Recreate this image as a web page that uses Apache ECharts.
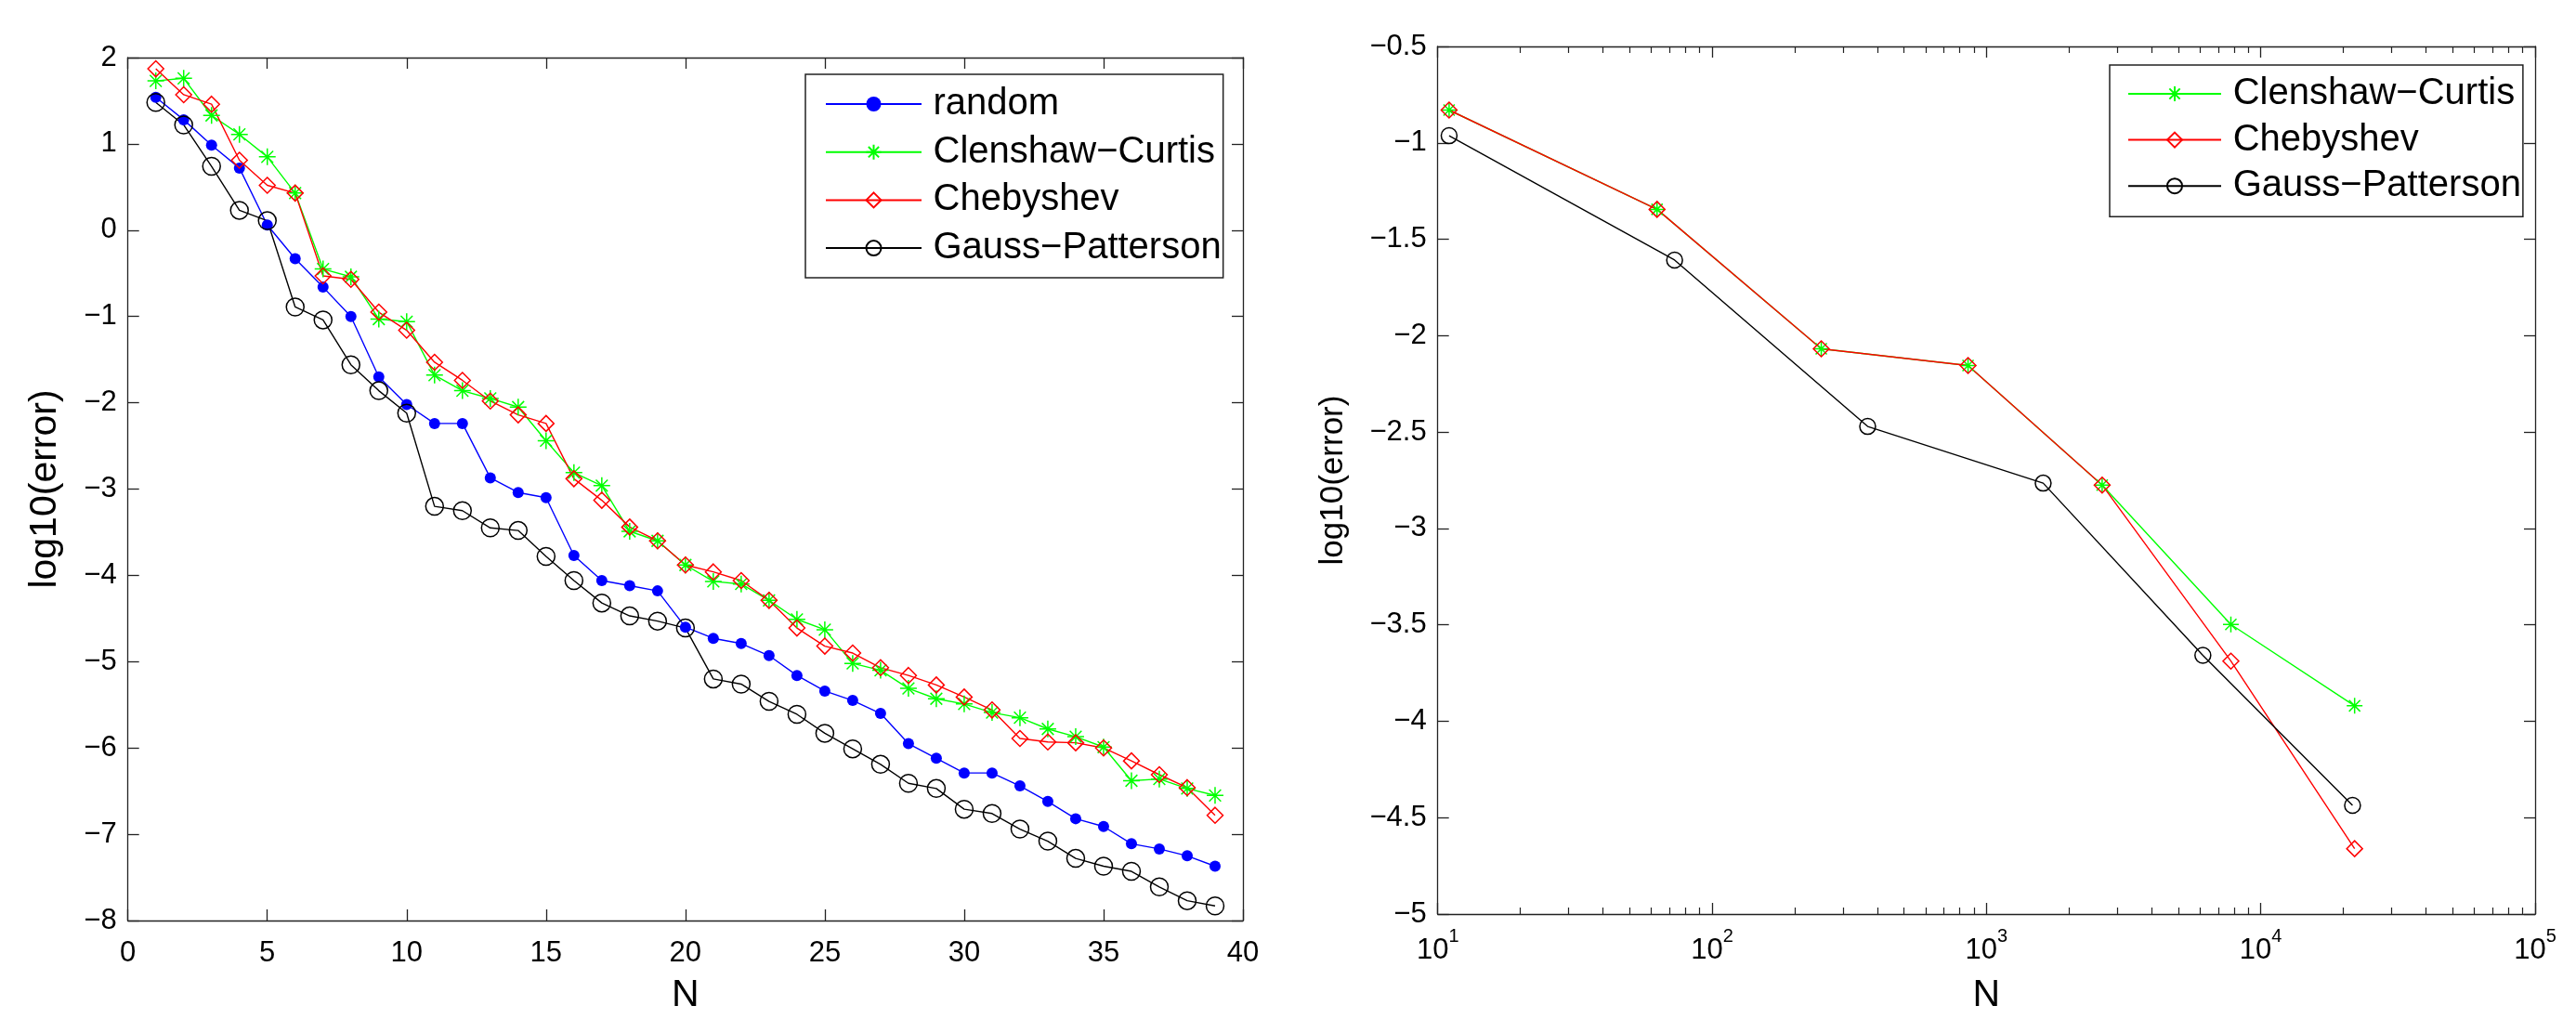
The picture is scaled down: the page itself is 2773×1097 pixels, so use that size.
<!DOCTYPE html>
<html>
<head>
<meta charset="utf-8">
<title>log10(error) vs N</title>
<script src="https://cdn.jsdelivr.net/npm/echarts@6/dist/echarts.min.js"></script>
<style>
  html, body { margin: 0; padding: 0; background: #ffffff; }
  #chart { width: 2773px; height: 1097px; }
</style>
</head>
<body>
<div id="chart"></div>
<script>
// ---- left panel: error against number of points N ----
const leftN = [1, 2, 3, 4, 5, 6, 7, 8, 9, 10, 11, 12, 13, 14, 15, 16, 17, 18, 19, 20,
               21, 22, 23, 24, 25, 26, 27, 28, 29, 30, 31, 32, 33, 34, 35, 36, 37, 38, 39];
const leftRandom = [1.54, 1.28, 0.985, 0.72, 0.06, -0.33, -0.66, -1.00, -1.70, -2.02,
                    -2.24, -2.24, -2.87, -3.04, -3.10, -3.77, -4.06, -4.12, -4.18, -4.60,
                    -4.73, -4.79, -4.93, -5.16, -5.34, -5.45, -5.60, -5.95, -6.12, -6.29,
                    -6.29, -6.44, -6.62, -6.82, -6.91, -7.11, -7.17, -7.25, -7.37];
const leftCC = [1.73, 1.76, 1.33, 1.11, 0.85, 0.43, -0.45, -0.54, -1.03, -1.06,
                -1.68, -1.86, -1.95, -2.05, -2.44, -2.81, -2.96, -3.49, -3.60, -3.88,
                -4.07, -4.10, -4.29, -4.51, -4.63, -5.02, -5.10, -5.31, -5.43, -5.49,
                -5.59, -5.65, -5.78, -5.87, -5.99, -6.38, -6.36, -6.47, -6.55];
const leftCheb = [1.87, 1.57, 1.46, 0.81, 0.52, 0.43, -0.53, -0.57, -0.95, -1.16,
                  -1.53, -1.74, -1.98, -2.14, -2.24, -2.88, -3.13, -3.44, -3.60, -3.88,
                  -3.96, -4.06, -4.29, -4.61, -4.82, -4.90, -5.07, -5.16, -5.27, -5.41,
                  -5.56, -5.89, -5.93, -5.94, -6.00, -6.15, -6.31, -6.46, -6.78];
const leftGP = [1.48, 1.22, 0.74, 0.23, 0.11, -0.89, -1.04, -1.56, -1.86, -2.12,
                -3.20, -3.25, -3.45, -3.48, -3.78, -4.06, -4.32, -4.47, -4.53, -4.61,
                -5.20, -5.26, -5.46, -5.61, -5.83, -6.01, -6.19, -6.41, -6.47, -6.71,
                -6.76, -6.94, -7.08, -7.28, -7.37, -7.43, -7.61, -7.77, -7.83];

// ---- right panel: error against N on a log scale ----
const rightN = [11, 63, 250, 857, 2641, 7780, 21980];          // Clenshaw-Curtis and Chebyshev
const rightCC = [-0.83, -1.345, -2.068, -2.155, -2.775, -3.498, -3.92];
const rightCheb = [-0.83, -1.345, -2.068, -2.155, -2.775, -3.688, -4.661];
const rightGPN = [11, 73, 369, 1610, 6150, 21600];              // Gauss-Patterson
const rightGP = [-0.963, -1.608, -2.471, -2.765, -3.658, -4.436];

const legendLeft = ['random', 'Clenshaw\u2212Curtis', 'Chebyshev', 'Gauss\u2212Patterson'];
const legendRight = ['Clenshaw\u2212Curtis', 'Chebyshev', 'Gauss\u2212Patterson'];

const FONT = '"Liberation Sans", Arial, Helvetica, sans-serif';
const AXIS_COLOR = '#222222';
const BLUE = '#0000ff', GREEN = '#00ff00', RED = '#ff0000', BLACK = '#000000';
const ASTERISK = 'path://M0,-10L0,10M-10,0L10,0M-7.07,-7.07L7.07,7.07M-7.07,7.07L7.07,-7.07';

const pairs = (xs, ys) => xs.map((x, i) => [x, ys[i]]);
const minusFmt = v => String(v).replace('-', '\u2212');

// minor tick positions (exponents of 2..9 x 10^k) for the decades 10^1 .. 10^5
const minorExponents = [];
for (let k = 1; k < 5; k++) {
  for (let m = 2; m <= 9; m++) minorExponents.push(k + Math.log10(m));
}

function frameAxis(extra) {
  return Object.assign({
    axisLine: { show: true, onZero: false, lineStyle: { color: AXIS_COLOR, width: 1.3 } },
    axisTick: { show: true, inside: true, length: 12, lineStyle: { color: AXIS_COLOR, width: 1.3 } },
    axisLabel: { show: false },
    splitLine: { show: false },
    minorTick: { show: false }
  }, extra);
}

// tick-only axis in exponent space carrying the log-decade minor ticks
function minorAxis(position) {
  return {
    gridIndex: 1, type: 'value', position: position, min: 1, max: 5,
    axisLine: { show: false },
    axisTick: { show: true, inside: true, length: 7, customValues: minorExponents,
                lineStyle: { color: AXIS_COLOR, width: 1.2 } },
    axisLabel: { show: false },
    splitLine: { show: false }
  };
}

const tickLabel = { color: '#000', fontFamily: FONT, fontSize: 31 };

function lineSeries(name, data, color, kind, xi, yi, size) {
  const s = {
    name: name, type: 'line', data: data,
    xAxisIndex: xi, yAxisIndex: yi,
    symbolSize: size,
    lineStyle: { color: color, width: 1.4 },
    emphasis: { disabled: true },
    z: 3
  };
  if (kind === 'dot') {
    s.symbol = 'circle';
    s.itemStyle = { color: color, borderColor: color, borderWidth: 0 };
  } else if (kind === 'star') {
    s.symbol = ASTERISK;
    s.itemStyle = { color: color, borderColor: color, borderWidth: 1.5 };
  } else if (kind === 'diamond') {
    s.symbol = 'diamond';
    s.itemStyle = { color: 'rgba(255,255,255,0)', borderColor: color, borderWidth: 1.5 };
  } else {
    s.symbol = 'circle';
    s.itemStyle = { color: 'rgba(255,255,255,0)', borderColor: color, borderWidth: 1.5 };
  }
  return s;
}

const option = {
  animation: false,
  backgroundColor: '#ffffff',
  textStyle: { fontFamily: FONT },
  grid: [
    { left: 137.7, top: 62, width: 1200.3, height: 943 },
    { left: 1547.7, top: 50, width: 1181.3, height: 948 }
  ],
  xAxis: [
    frameAxis({
      gridIndex: 0, type: 'value', position: 'bottom', min: 0, max: 40, interval: 5,
      axisLabel: Object.assign({ show: true, margin: 20 }, tickLabel),
      name: 'N', nameLocation: 'middle', nameGap: 60,
      nameTextStyle: { color: '#000', fontFamily: FONT, fontSize: 41 }
    }),
    frameAxis({ gridIndex: 0, type: 'value', position: 'top', min: 0, max: 40, interval: 5 }),
    frameAxis({
      gridIndex: 1, type: 'log', logBase: 10, position: 'bottom', min: 10, max: 100000,
      axisLabel: {
        show: true, margin: 14, color: '#000', fontFamily: FONT,
        formatter: v => '{b|10}{s|' + Math.round(Math.log10(v)) + '}',
        rich: {
          b: { fontFamily: FONT, fontSize: 31, lineHeight: 50, color: '#000' },
          s: { fontFamily: FONT, fontSize: 20, lineHeight: 20, verticalAlign: 'top', color: '#000' }
        }
      },
      name: 'N', nameLocation: 'middle', nameGap: 67,
      nameTextStyle: { color: '#000', fontFamily: FONT, fontSize: 41 }
    }),
    frameAxis({ gridIndex: 1, type: 'log', logBase: 10, position: 'top', min: 10, max: 100000 }),
    minorAxis('bottom'),
    minorAxis('top')
  ],
  yAxis: [
    frameAxis({
      gridIndex: 0, type: 'value', position: 'left', min: -8, max: 2, interval: 1,
      axisLabel: Object.assign({ show: true, margin: 12, formatter: minusFmt }, tickLabel),
      name: 'log10(error)', nameLocation: 'middle', nameGap: 69,
      nameTextStyle: { color: '#000', fontFamily: FONT, fontSize: 41 }
    }),
    frameAxis({ gridIndex: 0, type: 'value', position: 'right', min: -8, max: 2, interval: 1 }),
    frameAxis({
      gridIndex: 1, type: 'value', position: 'left', min: -5, max: -0.5, interval: 0.5,
      axisLabel: Object.assign({ show: true, margin: 12, formatter: minusFmt }, tickLabel),
      name: 'log10(error)', nameLocation: 'middle', nameGap: 95,
      nameTextStyle: { color: '#000', fontFamily: FONT, fontSize: 35 }
    }),
    frameAxis({ gridIndex: 1, type: 'value', position: 'right', min: -5, max: -0.5, interval: 0.5 })
  ],
  legend: [
    {
      data: legendLeft, orient: 'vertical', left: 867, top: 80,
      itemWidth: 103, itemHeight: 20, itemGap: 7.7,
      padding: [10, 2, 10, 21],
      borderColor: AXIS_COLOR, borderWidth: 1.5, backgroundColor: '#ffffff',
      selectedMode: false,
      textStyle: { color: '#000', fontFamily: FONT, fontSize: 40, lineHeight: 44, padding: [0, 0, 0, 7.5] }
    },
    {
      data: legendRight, orient: 'vertical', left: 2271, top: 70,
      itemWidth: 100, itemHeight: 20, itemGap: 5.6,
      padding: [9, 2, 11, 19],
      borderColor: AXIS_COLOR, borderWidth: 1.5, backgroundColor: '#ffffff',
      selectedMode: false,
      textStyle: { color: '#000', fontFamily: FONT, fontSize: 40, lineHeight: 44, padding: [0, 0, 0, 7.7] }
    }
  ],
  series: [
    lineSeries('random', pairs(leftN, leftRandom), BLUE, 'dot', 0, 0, 12),
    lineSeries('Clenshaw\u2212Curtis', pairs(leftN, leftCC), GREEN, 'star', 0, 0, 18),
    lineSeries('Chebyshev', pairs(leftN, leftCheb), RED, 'diamond', 0, 0, 17),
    lineSeries('Gauss\u2212Patterson', pairs(leftN, leftGP), BLACK, 'circle', 0, 0, 19),

    lineSeries('Clenshaw\u2212Curtis', pairs(rightN, rightCC), GREEN, 'star', 2, 2, 17),
    lineSeries('Chebyshev', pairs(rightN, rightCheb), RED, 'diamond', 2, 2, 17),
    lineSeries('Gauss\u2212Patterson', pairs(rightGPN, rightGP), BLACK, 'circle', 2, 2, 17)
  ]
};

const chart = echarts.init(document.getElementById('chart'), null, { renderer: 'canvas' });
chart.setOption(option);
</script>
</body>
</html>
